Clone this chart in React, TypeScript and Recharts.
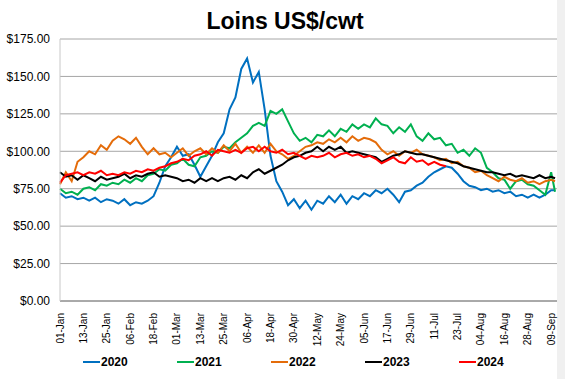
import React from 'react';
import { LineChart, Line, XAxis, YAxis, CartesianGrid } from 'recharts';

// sampled every 3 days from 01-Jan, last point is day 254
const s2020 = [
  72, 69, 70, 68, 69, 67, 69, 66, 68, 67,
  65, 68, 64, 66, 65, 67, 70, 79, 90, 96,
  103, 97, 98, 91, 83, 90, 97, 106, 112, 128,
  136, 155, 162, 146, 153, 128, 97, 80, 73, 64,
  68, 62, 67, 61, 67, 65, 70, 66, 71, 65,
  70, 68, 72, 70, 74, 72, 75, 71, 66, 73,
  74, 77, 79, 83, 86, 88, 90, 89, 85, 80,
  77, 76, 74, 75, 73, 74, 72, 73, 70, 71,
  69, 71, 69, 71, 74,
  74,
];
const s2021 = [
  75, 72, 73, 71, 75, 76, 74, 78, 77, 79,
  78, 81, 79, 82, 80, 84, 85, 88, 87, 91,
  92, 95, 91, 90, 96, 97, 100, 99, 103, 102,
  106, 109, 112, 117, 119, 117, 127, 125, 128, 120,
  112, 107, 109, 106, 111, 110, 114, 110, 115, 113,
  118, 115, 118, 116, 122, 118, 117, 112, 116, 113,
  118, 110, 107, 112, 108, 109, 104, 105, 99, 101,
  97, 102, 99, 89, 86, 82, 81, 75, 80, 81,
  78, 77, 74, 71, 86,
  73,
];
const s2022 = [
  78, 86, 80, 93, 96, 100, 98, 104, 101, 107,
  110, 108, 105, 109, 103, 98, 102, 98, 99, 96,
  99, 102, 97, 100, 102, 98, 102, 99, 104, 100,
  105, 99, 103, 99, 104, 99, 105, 100, 98, 95,
  97, 100, 103, 104, 106, 105, 108, 106, 109, 106,
  110, 107, 109, 108, 106, 101, 98, 100, 97, 100,
  99, 101, 98, 97, 96, 94, 95, 92, 93, 90,
  89, 86, 87, 84, 82, 80, 83, 81, 80, 82,
  79, 80, 78, 80, 81,
  80,
];
const s2023 = [
  86, 83, 84, 81, 84, 82, 80, 83, 81, 82,
  83, 85, 82, 84, 83, 85, 86, 83, 84, 83,
  82, 80, 81, 79, 82, 80, 82, 80, 82, 83,
  81, 84, 82, 86, 88, 85, 87, 89, 91, 94,
  96, 97, 99, 100, 103, 100, 103, 101, 103, 99,
  100, 99, 98, 97, 96, 93, 95, 97, 98, 100,
  99, 98, 98, 97, 96, 95, 94, 93, 92, 90,
  89, 88, 87, 86, 86, 85, 84, 85, 83, 84,
  83, 82, 84, 82, 83,
  82,
];
const s2024 = [
  79, 84, 85, 86, 84, 86, 85, 87, 84, 85,
  84, 86, 85, 87, 86, 88, 87, 89, 90, 92,
  93, 95, 94, 97, 98, 100, 97, 101, 100, 99,
  101, 99, 102, 103, 100, 103, 100, 99, 101, 98,
  99, 97, 95, 97, 96, 97, 99, 96, 98, 99,
  97, 98, 96, 97, 95, 92, 94, 96, 93, 92,
  96, 93, 94, 91, 93, 91, 90,
];

const tickLabels = [
  '01-Jan', '13-Jan', '25-Jan', '06-Feb', '18-Feb', '01-Mar', '13-Mar', '25-Mar',
  '06-Apr', '18-Apr', '30-Apr', '12-May', '24-May', '05-Jun', '17-Jun', '29-Jun',
  '11-Jul', '23-Jul', '04-Aug', '16-Aug', '28-Aug', '09-Sep',
];

const series = [
  { key: 'y2020', name: '2020', color: '#0070C0', values: s2020 },
  { key: 'y2021', name: '2021', color: '#00B050', values: s2021 },
  { key: 'y2022', name: '2022', color: '#E46C0A', values: s2022 },
  { key: 'y2023', name: '2023', color: '#000000', values: s2023 },
  { key: 'y2024', name: '2024', color: '#FF0000', values: s2024 },
];

const data = s2020.map((_, i) => {
  const row: any = { day: i < 85 ? i * 3 : 254 };
  series.forEach((s) => {
    row[s.key] = s.values[i] ?? null;
  });
  return row;
});

const font = '"Liberation Sans", Arial, sans-serif';

const DateTick = ({ x, y, payload }: any) => (
  <g transform={`translate(${x},${y + 5})`}>
    <text transform="rotate(-90)" x={0} y={0} dy="0.35em" textAnchor="end" fontSize={10} fill="#000" fontFamily={font}>
      {tickLabels[Math.round(payload.value / 12)]}
    </text>
  </g>
);

export default function App() {
  return (
    <div style={{ position: 'fixed', left: 0, top: 0, width: 565, height: 379, background: '#fff', overflow: 'hidden' }}>
      <div style={{ position: 'absolute', left: 557, top: 0, width: 8, height: 379, background: '#f0f0f0' }} />
      <div style={{ position: 'absolute', left: 0, top: 8, width: 570, textAlign: 'center', fontFamily: font, fontWeight: 'bold', fontSize: 23, color: '#000' }}>
        Loins US$/cwt
      </div>
      <LineChart width={565} height={379} data={data} margin={{ top: 39, right: 8, left: 0, bottom: 36 }}>
        <CartesianGrid horizontal vertical={false} stroke="#a6a6a6" />
        <XAxis
          dataKey="day"
          type="number"
          domain={[0, 255]}
          ticks={tickLabels.map((_, i) => i * 12)}
          tick={<DateTick />}
          tickLine={false}
          interval={0}
          height={42}
          axisLine={{ stroke: '#808080' }}
          tickSize={5}
          tickMargin={2}
        />
        <YAxis
          type="number"
          domain={[0, 175]}
          ticks={[0, 25, 50, 75, 100, 125, 150, 175]}
          tickFormatter={(v: number) => `$${v.toFixed(2)}`}
          width={60}
          tickLine={false}
          tickSize={8}
          tickMargin={2}
          axisLine={{ stroke: '#c8c8c8' }}
          tick={{ fontSize: 12, fill: '#000', fontFamily: font }}
        />
        {series.map((s) => (
          <Line
            key={s.key}
            dataKey={s.key}
            name={s.name}
            type="linear"
            stroke={s.color}
            strokeWidth={2}
            dot={false}
            isAnimationActive={false}
            connectNulls={false}
          />
        ))}
      </LineChart>
      <div style={{ position: 'absolute', left: 0, top: 353, width: 565, height: 20 }}>
        {series.map((s, i) => (
          <div key={s.key} style={{ position: 'absolute', left: 83 + i * 94, top: 0, height: 18, display: 'flex', alignItems: 'center' }}>
            <div style={{ width: 17, height: 2, background: s.color }} />
            <span style={{ fontFamily: font, fontWeight: 'bold', fontSize: 12, color: '#000', marginLeft: 1 }}>{s.name}</span>
          </div>
        ))}
      </div>
    </div>
  );
}
